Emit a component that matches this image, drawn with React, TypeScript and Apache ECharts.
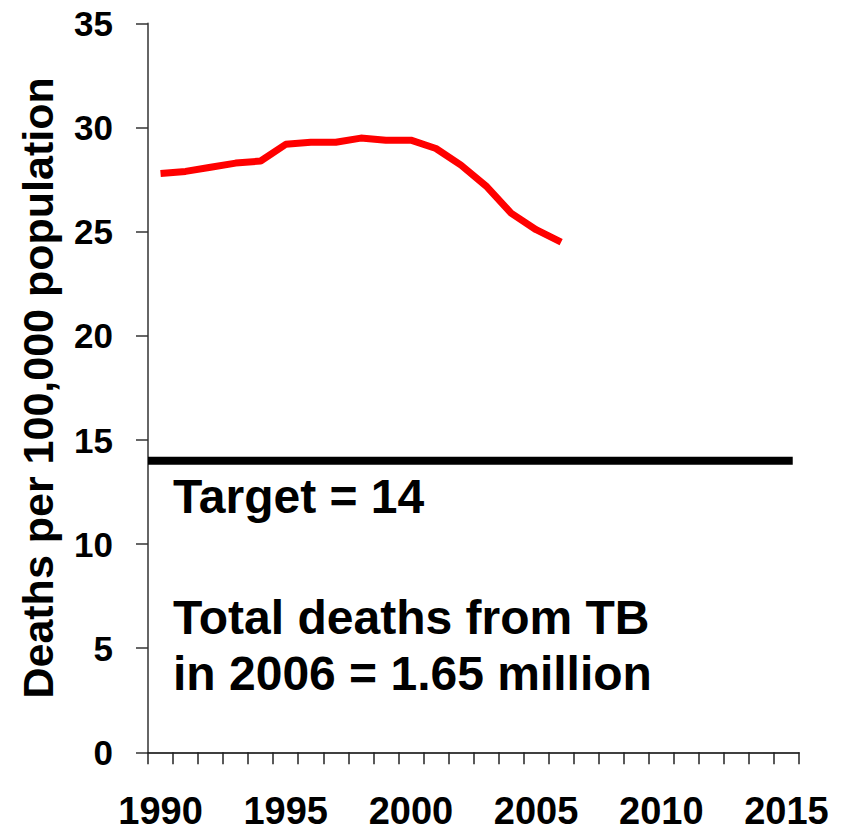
import React, { useEffect, useRef } from "react";
import * as echarts from "echarts";

// Years on the horizontal axis (one category per year)
const years: string[] = [];
for (let y = 1990; y <= 2015; y++) years.push(String(y));

// TB deaths per 100,000 population, 1990–2006
const deathRate: number[] = [
  27.8, 27.9, 28.1, 28.3, 28.4, 29.2, 29.3, 29.3, 29.5, 29.4, 29.4, 29.0,
  28.2, 27.2, 25.9, 25.1, 24.5,
];

// Target level and the span of years it is drawn across
const targetValue = 14;
const targetSpan: number[] = [1989.5, 2015.25];

const yTicks = { min: 0, max: 35, interval: 5 };

const FONT = "'Liberation Sans', Arial, sans-serif";

export default function App() {
  const ref = useRef<HTMLDivElement>(null);

  useEffect(() => {
    if (!ref.current) return;
    const chart = echarts.init(ref.current, undefined, { renderer: "svg" });
    chart.setOption({
      animation: false,
      backgroundColor: "#ffffff",
      grid: { left: 148, right: 45, top: 23.6, bottom: 80.7, containLabel: false },
      xAxis: [
        {
          type: "category",
          data: years,
          boundaryGap: true,
          axisLine: { lineStyle: { color: "#000", width: 1.5 } },
          axisTick: {
            show: true,
            length: 12,
            interval: 0,
            alignWithLabel: false,
            lineStyle: { color: "#222", width: 1.5 },
          },
          axisLabel: {
            interval: 4,
            margin: 40,
            color: "#000",
            fontFamily: FONT,
            fontWeight: "bold",
            fontSize: 38,
          },
          splitLine: { show: false },
        },
        {
          type: "value",
          min: targetSpan[0],
          max: 2015.5,
          show: false,
        },
      ],
      yAxis: {
        type: "value",
        min: yTicks.min,
        max: yTicks.max,
        interval: yTicks.interval,
        name: "Deaths per 100,000 population",
        nameLocation: "middle",
        nameGap: 89,
        nameTextStyle: {
          color: "#000",
          fontFamily: FONT,
          fontWeight: "bold",
          fontSize: 43,
        },
        axisLine: { show: true, lineStyle: { color: "#666", width: 2 } },
        axisTick: { show: true, length: 12, lineStyle: { color: "#333", width: 1.5 } },
        axisLabel: {
          margin: 35,
          color: "#000",
          fontFamily: FONT,
          fontWeight: "bold",
          fontSize: 35,
        },
        splitLine: { show: false },
      },
      series: [
        {
          type: "line",
          name: "Death rate",
          xAxisIndex: 0,
          data: deathRate,
          symbol: "none",
          lineStyle: { color: "#ff0000", width: 7 },
          z: 3,
        },
        {
          type: "line",
          name: "Target",
          xAxisIndex: 1,
          data: targetSpan.map((x) => [x, targetValue]),
          symbol: "none",
          lineStyle: { color: "#000000", width: 8, cap: "butt" },
          z: 2,
        },
      ],
      graphic: [
        {
          type: "text",
          left: 173,
          top: 472,
          style: {
            text: "Target = " + targetValue,
            fill: "#000",
            font: `bold 48px ${FONT}`,
          },
        },
        {
          type: "text",
          left: 173,
          top: 589,
          style: {
            text: "Total deaths from TB\nin 2006 = 1.65 million",
            fill: "#000",
            font: `bold 48px ${FONT}`,
            lineHeight: 56,
          },
        },
      ],
    });
    return () => chart.dispose();
  }, []);

  return (
    <div
      ref={ref}
      style={{ position: "absolute", left: 0, top: 0, width: 844, height: 833 }}
    />
  );
}
